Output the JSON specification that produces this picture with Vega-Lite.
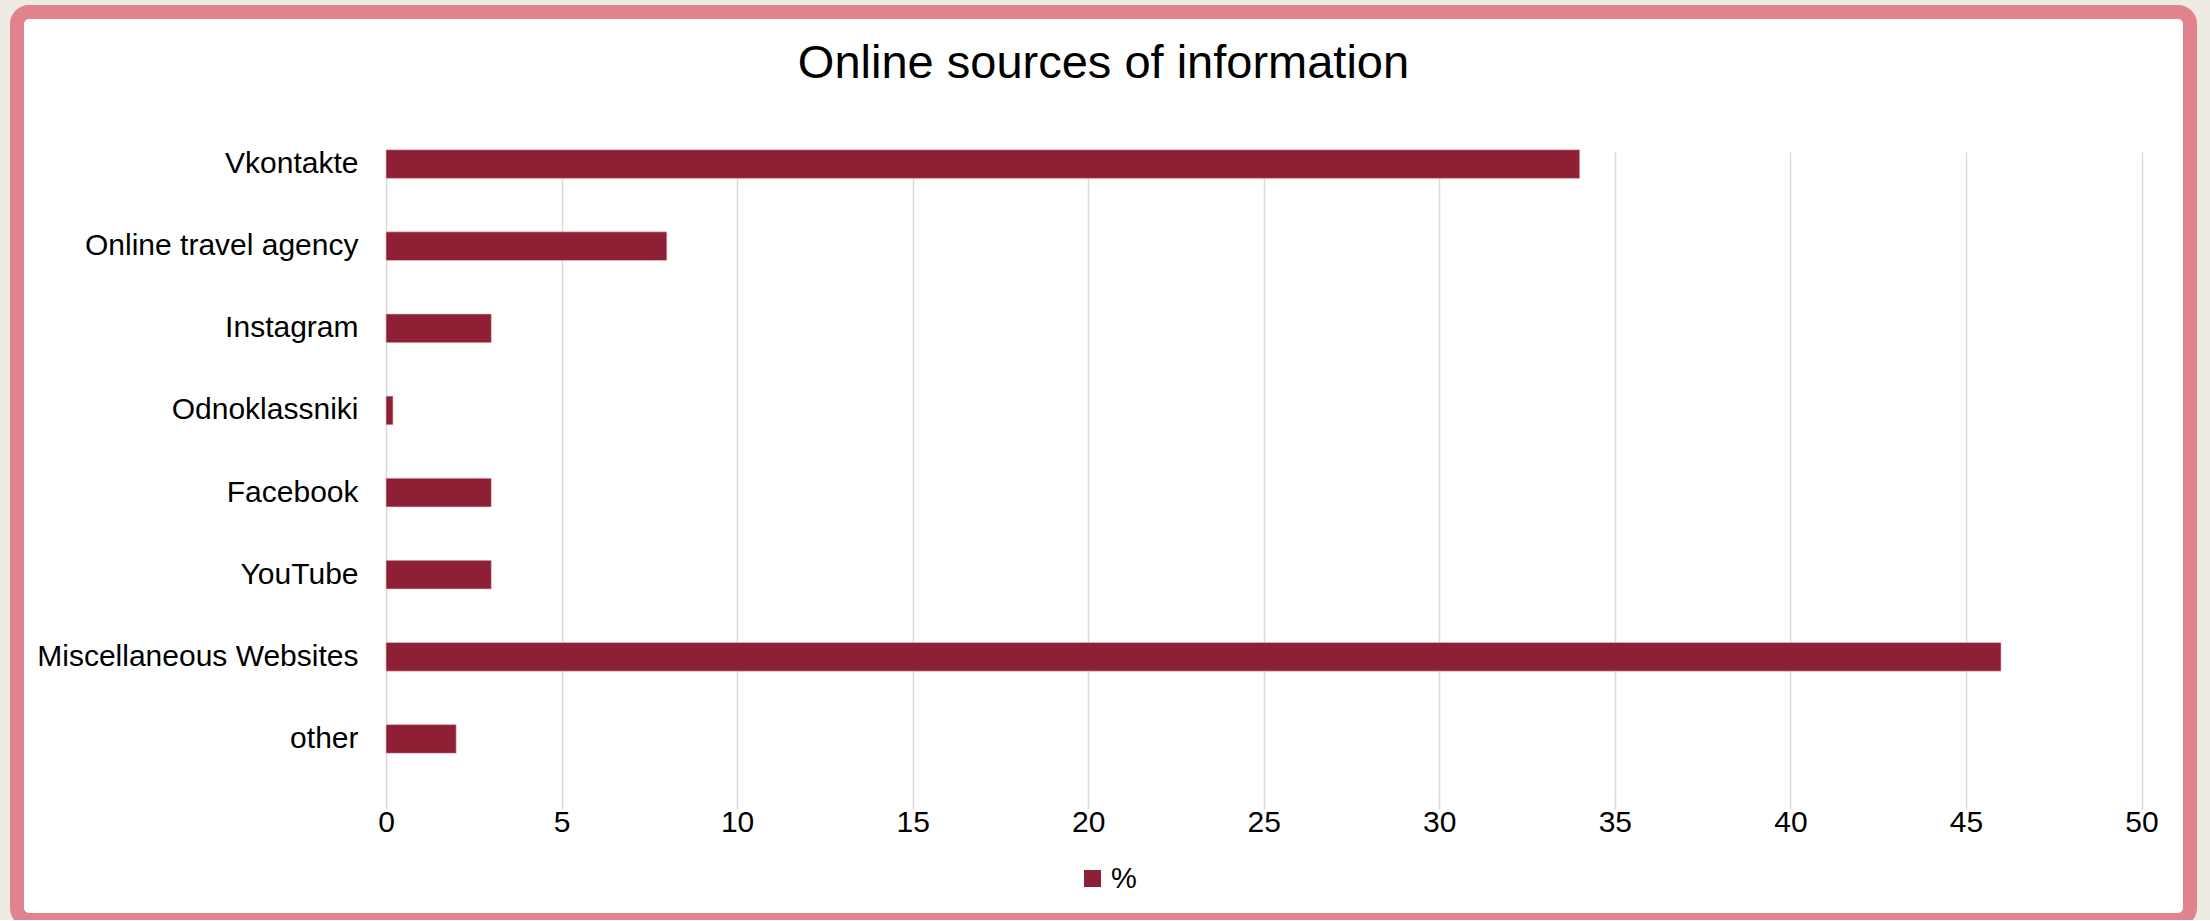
{
  "$schema": "https://vega.github.io/schema/vega-lite/v6.json",
  "autosize": {"type": "none"},
  "padding": {"left": 17, "top": 12, "right": 20, "bottom": 0},
  "width": 2173,
  "height": 908,
  "background": "#EEEBE3",
  "title": {
    "text": "Online sources of information",
    "frame": "group",
    "anchor": "middle",
    "orient": "top",
    "baseline": "alphabetic",
    "offset": -68,
    "dy": 45,
    "font": "Liberation Sans",
    "fontSize": 47,
    "fontWeight": "normal",
    "color": "#000000"
  },
  "data": {
    "values": [
      {"source": "Vkontakte", "value": 34, "series": "%"},
      {"source": "Online travel agency", "value": 8, "series": "%"},
      {"source": "Instagram", "value": 3, "series": "%"},
      {"source": "Odnoklassniki", "value": 0.2, "series": "%"},
      {"source": "Facebook", "value": 3, "series": "%"},
      {"source": "YouTube", "value": 3, "series": "%"},
      {"source": "Miscellaneous Websites", "value": 46, "series": "%"},
      {"source": "other", "value": 2, "series": "%"}
    ]
  },
  "mark": {"type": "bar", "stroke": "#F2C9CF", "strokeWidth": 0.6},
  "encoding": {
    "y": {
      "field": "source",
      "type": "nominal",
      "sort": null,
      "scale": {"range": [111, 768], "paddingInner": 0.65, "paddingOuter": 0.325},
      "axis": {
        "title": null,
        "orient": "left",
        "offset": -341,
        "ticks": false,
        "tickSize": 0,
        "domain": false,
        "grid": false,
        "labelPadding": 0,
        "labelFont": "Liberation Sans",
        "labelFontSize": 30,
        "labelColor": "#000000",
        "labelLimit": 600
      }
    },
    "x": {
      "field": "value",
      "type": "quantitative",
      "scale": {"domain": [0, 50], "range": [369, 2124.5], "nice": false, "zero": true},
      "axis": {
        "title": null,
        "orient": "bottom",
        "offset": -113,
        "values": [0, 5, 10, 15, 20, 25, 30, 35, 40, 45, 50],
        "ticks": false,
        "tickSize": 0,
        "domain": false,
        "grid": true,
        "gridColor": "#D9D9D9",
        "gridWidth": 1.5,
        "labelPadding": 0,
        "labelFont": "Liberation Sans",
        "labelFontSize": 30,
        "labelColor": "#000000",
        "labelFlush": false
      }
    },
    "color": {
      "field": "series",
      "type": "nominal",
      "scale": {"range": ["#8E2035"]},
      "legend": {
        "title": null,
        "orient": "none",
        "legendX": 1061,
        "legendY": 852,
        "padding": 0,
        "symbolType": "square",
        "symbolSize": 289,
        "symbolStrokeWidth": 0,
        "labelFont": "Liberation Sans",
        "labelFontSize": 29,
        "labelColor": "#000000",
        "labelOffset": 4
      }
    }
  },
  "config": {
    "view": {"fill": "#FFFFFF", "stroke": "#E1828F", "strokeWidth": 14, "cornerRadius": 12}
  }
}
